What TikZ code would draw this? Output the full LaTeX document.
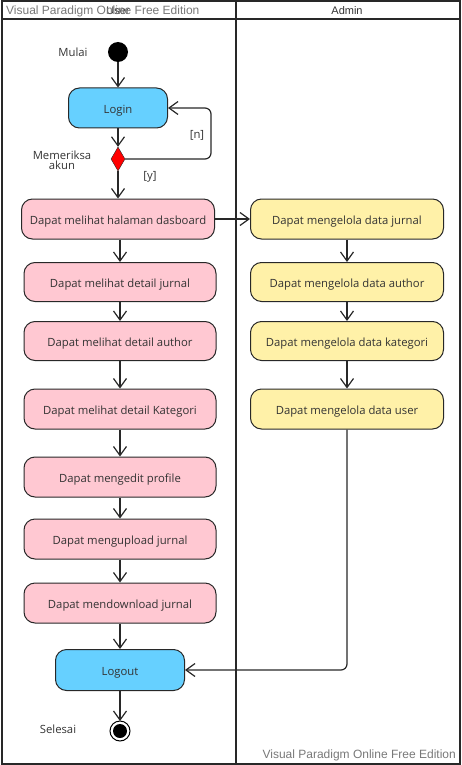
\documentclass[tikz,border=0pt]{standalone}
\usepackage{fontspec}
\setmainfont{Open Sans}
\newfontfamily\wmfont{Liberation Sans}
\usetikzlibrary{arrows.meta,shapes.geometric}
\definecolor{loginblue}{RGB}{102, 208, 255}
\definecolor{userpink}{RGB}{255, 200, 210}
\definecolor{adminyellow}{RGB}{255, 241, 168}
\definecolor{edgegray}{RGB}{40, 40, 40}
\definecolor{textgray}{RGB}{51, 51, 51}
\definecolor{markgray}{RGB}{120, 120, 120}

\tikzset{
    act/.style={draw=edgegray, line width=1pt, rounded corners=11pt, minimum height=40pt,
        text=textgray, font=\fontsize{11.3}{13}\selectfont, inner sep=0pt,
        text height=10.5pt, text depth=0pt},
    flow/.style={->, >={Straight Barb[length=9pt, width=13pt]}, edgegray, line width=1.2pt},
    lane/.style={draw=edgegray, line width=2pt},
    lbl/.style={text=textgray, font=\fontsize{11.3}{12}\selectfont, align=center}
}

\begin{document}
\begin{tikzpicture}[x=1pt, y=-1pt]
    \useasboundingbox (0,0) rectangle (461,765);
    % Swimlanes
    \draw[lane] (1.5,1.5) rectangle (459.5,763.5);
    \draw[lane] (1.5,19.5) -- (459.5,19.5);
    \draw[lane] (235.5,1.5) -- (235.5,763.5);
    \node[font=\wmfont\fontsize{11}{12}\selectfont, text=textgray] (userhead) at (118,11) {User};
    \node[font=\wmfont\fontsize{11}{12}\selectfont, text=textgray] (adminhead) at (347,11) {Admin};
    \node[font=\wmfont\fontsize{12}{13}\selectfont, text=markgray, anchor=west, inner sep=0pt] (marktop) at (6,11) {Visual Paradigm Online Free Edition};
    \node[font=\wmfont\fontsize{12}{13}\selectfont, text=markgray, anchor=east, inner sep=0pt] (markbot) at (456,755) {Visual Paradigm Online Free Edition};

    % Start, login and check
    \fill (118,52) circle (10pt) coordinate (start);
    \node[lbl] (mulai) at (73,52) {Mulai};
    \node[act, fill=loginblue, minimum width=99pt] (login) at (118,108) {Login};
    \node[diamond, draw=edgegray, fill=red, minimum width=14pt, minimum height=24pt,
        inner sep=0pt, aspect=0.6] (cek) at (118,159) {};
    \node[lbl] (cekl) at (62,160) {Memeriksa\\[-2pt]akun};
    \coordinate (loopa) at (211,159);
    \coordinate (loopb) at (211,108);

    % User lane
    \node[act, fill=userpink, minimum width=193pt] (p1) at (118,219) {Dapat melihat halaman dasboard};
    \node[act, fill=userpink, minimum width=192pt, minimum height=39pt] (p2) at (120,282) {Dapat melihat detail jurnal};
    \node[act, fill=userpink, minimum width=192pt, minimum height=39pt] (p3) at (120,341) {Dapat melihat detail author};
    \node[act, fill=userpink, minimum width=192pt] (p4) at (120,409) {Dapat melihat detail Kategori};
    \node[act, fill=userpink, minimum width=192pt] (p5) at (120,477) {Dapat mengedit profile};
    \node[act, fill=userpink, minimum width=192pt] (p6) at (120,539) {Dapat mengupload jurnal};
    \node[act, fill=userpink, minimum width=192pt] (p7) at (120,603) {Dapat mendownload jurnal};
    \node[act, fill=loginblue, minimum width=129pt, minimum height=41pt] (logout) at (120,670) {Logout};
    \draw[line width=1pt] (120,731) circle (10pt);
    \fill (120,731) circle (7pt) coordinate (stop);
    \node[lbl] (selesai) at (58,729) {Selesai};

    % Admin lane
    \node[act, fill=adminyellow, minimum width=193pt] (a1) at (347,219) {Dapat mengelola data jurnal};
    \node[act, fill=adminyellow, minimum width=193pt, minimum height=39pt] (a2) at (347,282) {Dapat mengelola data author};
    \node[act, fill=adminyellow, minimum width=193pt, minimum height=39pt] (a3) at (347,341) {Dapat mengelola data kategori};
    \node[act, fill=adminyellow, minimum width=193pt] (a4) at (347,409) {Dapat mengelola data user};
    \coordinate (bend) at (347,670);

    % Flows
    \draw[flow] (118,62) -- (login);
    \draw[flow] (login) -- (cek);
    \draw[flow, rounded corners=6pt] (cek.east) -- (loopa) -- (loopb) -- (login.east);
    \node[lbl] (nl) at (197,135) {[n]};
    \draw[flow] (cek) -- (p1);
    \node[lbl] (yl) at (150,177) {[y]};
    \draw[flow] (p1.east) -- (a1.west);
    \draw[flow] (p1.south -| p2.north) -- (p2);
    \draw[flow] (p2) -- (p3);
    \draw[flow] (p3) -- (p4);
    \draw[flow] (p4) -- (p5);
    \draw[flow] (p5) -- (p6);
    \draw[flow] (p6) -- (p7);
    \draw[flow] (p7) -- (logout);
    \draw[flow] (logout) -- (120,721);
    \draw[flow] (a1) -- (a2);
    \draw[flow] (a2) -- (a3);
    \draw[flow] (a3) -- (a4);
    \draw[flow, rounded corners=6pt] (a4.south) -- (bend) -- (logout.east);
\end{tikzpicture}
\end{document}
